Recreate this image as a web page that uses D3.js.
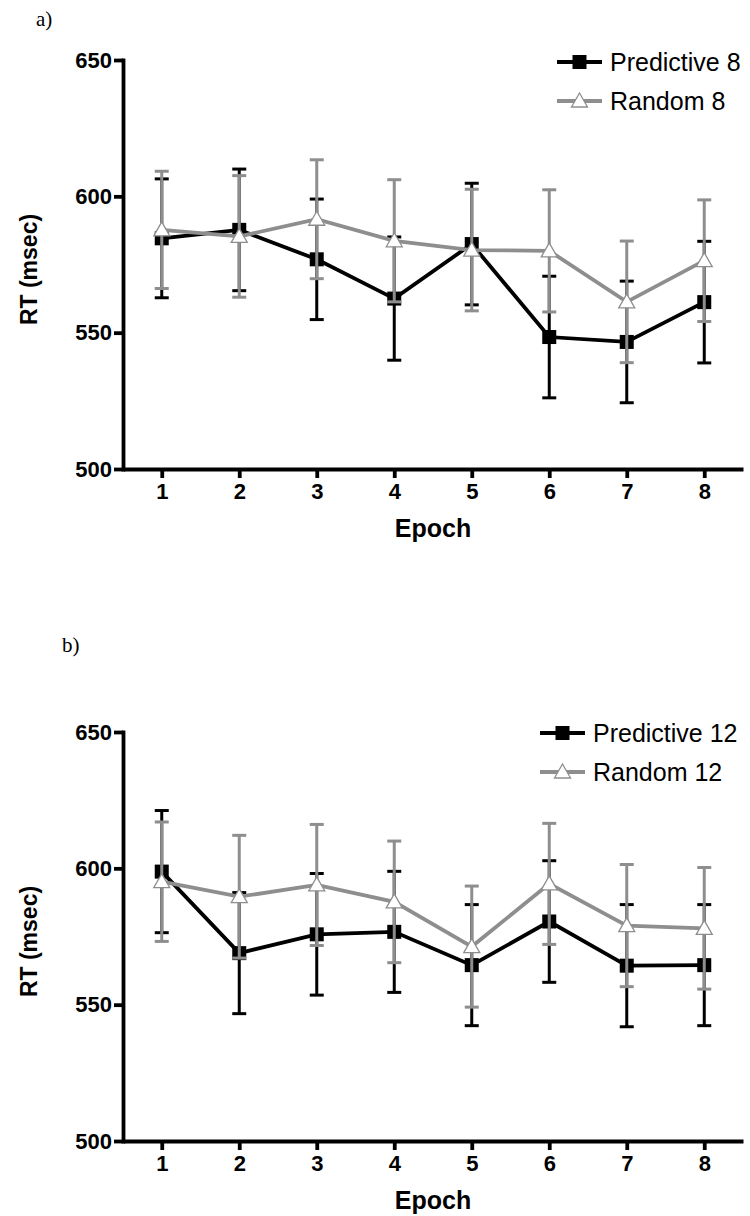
<!DOCTYPE html>
<html>
<head>
<meta charset="utf-8">
<script src="https://cdn.jsdelivr.net/npm/d3@7"></script>
<style>
  html, body { margin: 0; padding: 0; background: #fff; }
  svg { display: block; }
</style>
</head>
<body>
<svg id="chart" width="750" height="1216"></svg>
<script>
// ---- data ----
const epochs = [1, 2, 3, 4, 5, 6, 7, 8];
const yTicks = [500, 550, 600, 650];

const predictive8Mean = [584.6, 587.7, 576.9, 562.5, 582.5, 548.4, 546.6, 561.2];
const predictive8Err  = [21.8, 22.3, 22.1, 22.6, 22.3, 22.3, 22.3, 22.3];
const random8Mean     = [587.7, 585.3, 591.6, 583.7, 580.3, 580.0, 561.3, 576.4];
const random8Err      = [21.5, 22.3, 21.8, 22.4, 22.3, 22.4, 22.3, 22.3];

const predictive12Mean = [598.8, 568.9, 575.8, 576.7, 564.5, 580.5, 564.3, 564.5];
const predictive12Err  = [22.4, 22.2, 22.3, 22.2, 22.2, 22.3, 22.4, 22.2];
const random12Mean     = [595.1, 589.6, 593.9, 587.7, 571.3, 594.3, 579.0, 578.0];
const random12Err      = [21.9, 22.5, 22.2, 22.3, 22.2, 22.2, 22.4, 22.3];

const panelLabels = ["a)", "b)"];
const seriesNames = [["Predictive 8", "Random 8"], ["Predictive 12", "Random 12"]];
const yTitle = "RT (msec)";
const xTitle = "Epoch";

// ---- drawing ----
const svg = d3.select("#chart");
const BLACK = "#000000";
const GREY = "#8e8e8e";
const SANS = "Liberation Sans, Arial, sans-serif";

const panels = [
  { top: 60, bottom: 469, label: panelLabels[0], labelX: 36, labelY: 26,
    series: [
      { name: seriesNames[0][0], mean: predictive8Mean, err: predictive8Err, color: BLACK, shape: "square" },
      { name: seriesNames[0][1], mean: random8Mean, err: random8Err, color: GREY, shape: "triangle" }
    ], legendX: 557, legendY: 62 },
  { top: 732, bottom: 1141, label: panelLabels[1], labelX: 62, labelY: 652,
    series: [
      { name: seriesNames[1][0], mean: predictive12Mean, err: predictive12Err, color: BLACK, shape: "square" },
      { name: seriesNames[1][1], mean: random12Mean, err: random12Err, color: GREY, shape: "triangle" }
    ], legendX: 540, legendY: 733 }
];

const x = d3.scaleLinear().domain([0.5, 8.5]).range([123, 743]);

function drawMarker(g, shape, cx, cy, color) {
  if (shape === "square") {
    g.append("rect").attr("x", cx - 7).attr("y", cy - 7).attr("width", 14).attr("height", 14)
      .attr("fill", color);
  } else {
    const s = 8;
    g.append("path")
      .attr("d", `M${cx},${cy - s}L${cx + s},${cy + s * 0.75}L${cx - s},${cy + s * 0.75}Z`)
      .attr("fill", "#fff").attr("stroke", color).attr("stroke-width", 1.3);
  }
}

panels.forEach(p => {
  const y = d3.scaleLinear().domain([500, 650]).range([p.bottom, p.top]);
  const g = svg.append("g");

  // panel label
  svg.append("text").attr("x", p.labelX).attr("y", p.labelY)
    .attr("font-family", "Liberation Serif, Times New Roman, serif")
    .attr("font-size", 21).attr("fill", "#000").text(p.label);

  // axes
  const yAxis = g.append("g").attr("transform", `translate(${x.range()[0]},0)`)
    .call(d3.axisLeft(y).tickValues(yTicks).tickSize(9).tickSizeOuter(0).tickPadding(2));
  const xAxis = g.append("g").attr("transform", `translate(0,${p.bottom})`)
    .call(d3.axisBottom(x).tickValues(epochs).tickSize(9).tickSizeOuter(0).tickPadding(5));
  [yAxis, xAxis].forEach(a => {
    a.select(".domain").attr("stroke", "#000").attr("stroke-width", 3.8);
    a.selectAll(".tick line").attr("stroke", "#000").attr("stroke-width", 3.8);
    a.selectAll(".tick text").attr("fill", "#000")
      .attr("font-family", SANS)
      .attr("font-weight", "bold").attr("font-size", 22);
  });
  yAxis.select(".domain").attr("stroke-linecap", "square");

  // axis titles
  g.append("text")
    .attr("transform", `translate(37,${(p.top + p.bottom) / 2 + 5}) rotate(-90)`)
    .attr("text-anchor", "middle")
    .attr("font-family", SANS)
    .attr("font-weight", "bold").attr("font-size", 23).text(yTitle);
  g.append("text")
    .attr("x", (x(1) + x(8)) / 2).attr("y", p.bottom + 68)
    .attr("text-anchor", "middle")
    .attr("font-family", SANS)
    .attr("font-weight", "bold").attr("font-size", 25).text(xTitle);

  // series
  p.series.forEach(s => {
    const sg = g.append("g");
    const pts = epochs.map((e, i) => ({ e, m: s.mean[i], er: s.err[i] }));
    // error bars
    pts.forEach(d => {
      const cx = x(d.e);
      sg.append("line").attr("x1", cx).attr("x2", cx)
        .attr("y1", y(d.m - d.er)).attr("y2", y(d.m + d.er))
        .attr("stroke", s.color).attr("stroke-width", 3);
      [d.m - d.er, d.m + d.er].forEach(v => {
        sg.append("line").attr("x1", cx - 7).attr("x2", cx + 7)
          .attr("y1", y(v)).attr("y2", y(v))
          .attr("stroke", s.color).attr("stroke-width", 3);
      });
    });
    // line
    sg.append("path").datum(pts)
      .attr("d", d3.line().x(d => x(d.e)).y(d => y(d.m)))
      .attr("fill", "none").attr("stroke", s.color).attr("stroke-width", 3.8);
    // markers
    pts.forEach(d => drawMarker(sg, s.shape, x(d.e), y(d.m), s.color));
  });

  // legend
  p.series.forEach((s, i) => {
    const ly = p.legendY + i * 39;
    const lg = g.append("g");
    lg.append("line").attr("x1", p.legendX).attr("x2", p.legendX + 45)
      .attr("y1", ly).attr("y2", ly).attr("stroke", s.color).attr("stroke-width", 3.8);
    drawMarker(lg, s.shape, p.legendX + 22.5, ly, s.color);
    lg.append("text").attr("x", p.legendX + 53).attr("y", ly)
      .attr("dy", "0.35em")
      .attr("font-family", SANS)
      .attr("font-size", 25).attr("fill", "#000").text(s.name);
  });
});
</script>
</body>
</html>
